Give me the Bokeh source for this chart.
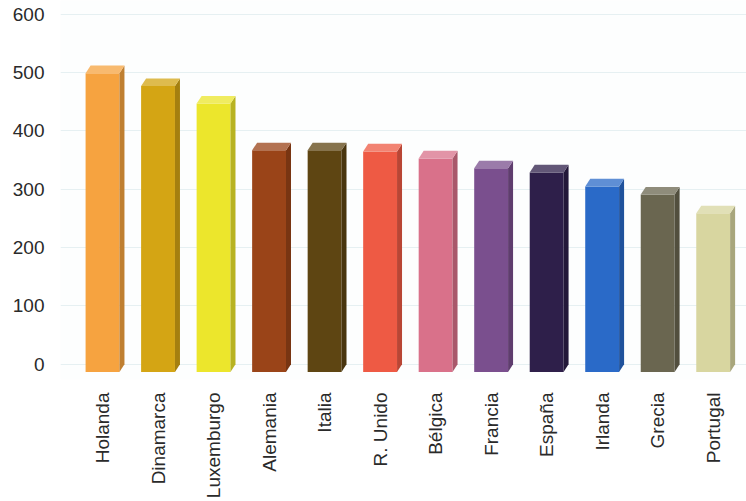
from math import pi

from bokeh.embed import file_html
from bokeh.models import ColumnDataSource, FixedTicker, Range1d
from bokeh.plotting import figure
from bokeh.resources import INLINE

# Data
countries = ["Holanda", "Dinamarca", "Luxemburgo", "Alemania", "Italia", "R. Unido",
             "Bélgica", "Francia", "España", "Irlanda", "Grecia", "Portugal"]
values = [512, 490, 460, 380, 380, 378, 366, 349, 342, 318, 304, 272]
colors = ["#f6a340", "#d4a514", "#ece62c", "#9a4418", "#5e4512", "#ee5a44",
          "#d9718a", "#7a4f8e", "#2e1f4a", "#2a6ac8", "#6a6650", "#d8d6a0"]
y_ticks = [0, 100, 200, 300, 400, 500, 600]

# 3D box geometry (front width, depth offsets in data units)
W = 0.61
DX = 0.09
DY = 13


def shade(hex_color, f):
    h = hex_color.lstrip("#")
    r, g, b = (int(h[i:i + 2], 16) for i in (0, 2, 4))
    if f < 1:
        r, g, b = (int(c * f) for c in (r, g, b))
    else:
        t = f - 1
        r, g, b = (int(c + (255 - c) * t) for c in (r, g, b))
    return "#%02x%02x%02x" % (r, g, b)


xs = list(range(len(countries)))

p = figure(width=746, height=501, output_backend="svg", toolbar_location=None,
           x_range=Range1d(-0.757, 11.6), y_range=Range1d(-26, 623.6),
           min_border_left=60, min_border_right=0, min_border_top=0,
           min_border_bottom=121)
p.outline_line_color = None
p.background_fill_color = "#fdfefe"
p.border_fill_color = "#ffffff"

# front faces
front = ColumnDataSource(dict(x=xs, top=[v - DY for v in values], color=colors))
p.vbar(x="x", width=W, bottom=-DY, top="top", source=front,
       fill_color="color", line_color=None)

# side faces and top caps
side_x, side_y, side_c = [], [], []
cap_x, cap_y, cap_c = [], [], []
for x, v, c in zip(xs, values, colors):
    r = x + W / 2
    l = x - W / 2
    side_x.append([r, r + DX, r + DX, r])
    side_y.append([-DY, 0, v, v - DY])
    side_c.append(shade(c, 0.78))
    cap_x.append([l, r, r + DX, l + DX])
    cap_y.append([v - DY, v - DY, v, v])
    cap_c.append(shade(c, 1.25))
p.patches(side_x, side_y, fill_color=side_c, line_color=None)
p.patches(cap_x, cap_y, fill_color=cap_c, line_color=None)

# axes
p.yaxis.ticker = FixedTicker(ticks=y_ticks)
p.yaxis.axis_line_color = None
p.yaxis.major_tick_line_color = None
p.yaxis.minor_tick_line_color = None
p.yaxis.major_label_standoff = 10
p.yaxis.major_label_text_font = "Liberation Sans"
p.yaxis.major_label_text_font_size = "19px"
p.yaxis.major_label_text_color = "#2a2a2a"

p.xaxis.ticker = FixedTicker(ticks=xs)
p.xaxis.major_label_overrides = {i: n for i, n in enumerate(countries)}
p.xaxis.major_label_orientation = pi / 2
p.xaxis.axis_line_color = None
p.xaxis.major_tick_line_color = None
p.xaxis.minor_tick_line_color = None
p.xaxis.major_label_standoff = 7
p.xaxis.major_label_text_font = "Liberation Sans"
p.xaxis.major_label_text_font_size = "19px"
p.xaxis.major_label_text_color = "#2a2a2a"

p.xgrid.grid_line_color = None
p.ygrid.ticker = FixedTicker(ticks=y_ticks)
p.ygrid.grid_line_color = "#e6f0f2"
p.ygrid.grid_line_width = 1

open("out.html", "w").write(file_html(p, INLINE))
